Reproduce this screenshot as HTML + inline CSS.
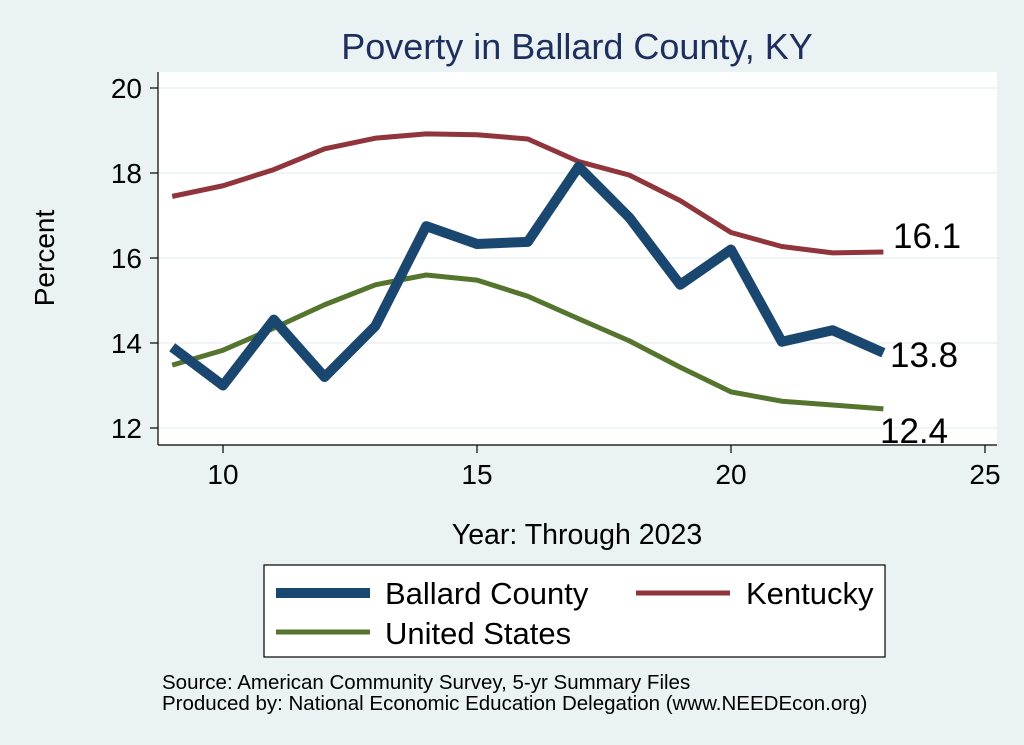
<!DOCTYPE html>
<html><head><meta charset="utf-8"><style>
html,body{margin:0;padding:0;background:#eaf2f3;}
svg{display:block;font-family:"Liberation Sans",Arial,sans-serif;}
</style></head><body>
<svg width="1024" height="745" viewBox="0 0 1024 745">
<rect width="1024" height="745" fill="#eaf2f3"/>
<rect x="158" y="72" width="839" height="373" fill="#fff"/>
<text x="577" y="59" font-size="36" fill="#1e2f5e" text-anchor="middle">Poverty in Ballard County, KY</text>
<g stroke="#eaf2f3" stroke-width="1.5">
<line x1="158" x2="997" y1="88" y2="88"/><line x1="158" x2="997" y1="173" y2="173"/>
<line x1="158" x2="997" y1="258" y2="258"/><line x1="158" x2="997" y1="343" y2="343"/>
<line x1="158" x2="997" y1="428" y2="428"/>
</g>
<g stroke="#000" stroke-width="1.2">
<line x1="158" y1="72" x2="158" y2="445"/><line x1="158" y1="445" x2="997" y2="445"/>
<line x1="150" x2="158" y1="88" y2="88"/><line x1="150" x2="158" y1="173" y2="173"/>
<line x1="150" x2="158" y1="258" y2="258"/><line x1="150" x2="158" y1="343" y2="343"/>
<line x1="150" x2="158" y1="428" y2="428"/>
<line x1="223" x2="223" y1="445" y2="453"/><line x1="477" x2="477" y1="445" y2="453"/>
<line x1="731" x2="731" y1="445" y2="453"/><line x1="985" x2="985" y1="445" y2="453"/>
</g>
<g font-size="28" fill="#000" text-anchor="end">
<text x="142" y="98">20</text><text x="142" y="183">18</text><text x="142" y="268">16</text>
<text x="142" y="353">14</text><text x="142" y="438">12</text>
</g>
<g font-size="28" fill="#000" text-anchor="middle">
<text x="223" y="484">10</text><text x="477" y="484">15</text><text x="731" y="484">20</text><text x="985" y="484">25</text>
</g>
<text x="54" y="258" font-size="28" text-anchor="middle" transform="rotate(-90 54 258)">Percent</text>
<text x="577" y="544" font-size="28.5" text-anchor="middle">Year: Through 2023</text>
<g transform="matrix(50.8 0 0 -42.5 -285 938)" fill="none" stroke-linejoin="round">
<polyline vector-effect="non-scaling-stroke" stroke="#90353b" stroke-width="5" points="9,17.45 10,17.7 11,18.08 12,18.57 13,18.82 14,18.92 15,18.9 16,18.8 17,18.27 18,17.95 19,17.35 20,16.6 21,16.27 22,16.12 23,16.14"/>
<polyline vector-effect="non-scaling-stroke" stroke="#55752f" stroke-width="5" points="9,13.48 10,13.83 11,14.35 12,14.9 13,15.37 14,15.6 15,15.48 16,15.1 17,14.57 18,14.05 19,13.43 20,12.85 21,12.63 22,12.54 23,12.45"/>
<polyline vector-effect="non-scaling-stroke" stroke="#1a476f" stroke-width="10" points="9,13.9 10,13.0 11,14.55 12,13.2 13,14.4 14,16.75 15,16.33 16,16.38 17,18.15 18,16.95 19,15.37 20,16.2 21,14.03 22,14.3 23,13.77"/>
</g>
<g font-size="35" fill="#000">
<text x="893" y="248">16.1</text><text x="890" y="367">13.8</text><text x="880" y="443">12.4</text>
</g>
<rect x="264" y="565" width="621" height="92" fill="#fff" stroke="#000" stroke-width="1.2"/>
<line x1="276" x2="370" y1="593" y2="593" stroke="#1a476f" stroke-width="10"/>
<line x1="636" x2="730" y1="593" y2="593" stroke="#90353b" stroke-width="5"/>
<line x1="276" x2="370" y1="632" y2="632" stroke="#55752f" stroke-width="5"/>
<g font-size="31" fill="#000">
<text x="385" y="604">Ballard County</text><text x="746" y="604">Kentucky</text><text x="385" y="644">United States</text>
</g>
<g font-size="20.5" fill="#000">
<text x="162" y="689">Source: American Community Survey, 5-yr Summary Files</text>
<text x="162" y="710">Produced by: National Economic Education Delegation (www.NEEDEcon.org)</text>
</g>
</svg>
</body></html>
